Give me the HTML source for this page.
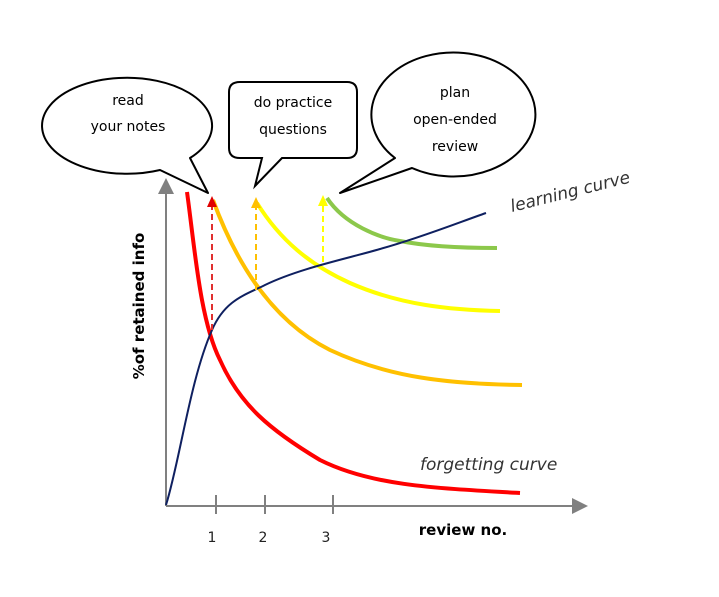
<!DOCTYPE html>
<html><head><style>body{margin:0;background:#fff}svg{display:block}</style></head><body>
<svg width="719" height="597" viewBox="0 0 719 597" xmlns="http://www.w3.org/2000/svg" font-family="DejaVu Sans, sans-serif">
<defs>
<marker id="ga" markerWidth="8" markerHeight="8" refX="4" refY="4" orient="auto"><path d="M0,0L8,4L0,8z" fill="#808080"/></marker>
</defs>
<path d="M190,158 L208,193 L160,170 A85,48 0 1 1 190,158 Z" fill="#fff" stroke="#000" stroke-width="2" stroke-linejoin="round"/>
<path d="M240,82 H347 Q357,82 357,92 V148 Q357,158 347,158 H282 L255,186 L262,158 H240 Q229,158 229,148 V92 Q229,82 240,82 Z" fill="#fff" stroke="#000" stroke-width="2"/>
<path d="M395,158 L340,193 L412,168 A82,62 0 1 0 395,158 Z" fill="#fff" stroke="#000" stroke-width="2" stroke-linejoin="round"/>
<g font-size="14" text-anchor="middle" fill="#000">
<text x="128" y="105">read</text><text x="128" y="131">your notes</text>
<text x="293" y="107">do practice</text><text x="293" y="134">questions</text>
<text x="455" y="97">plan</text><text x="455" y="124">open-ended</text><text x="455" y="151">review</text>
</g>
<line x1="166" y1="506" x2="166" y2="186" stroke="#808080" stroke-width="2" marker-end="url(#ga)"/>
<line x1="166" y1="506" x2="580" y2="506" stroke="#808080" stroke-width="2" marker-end="url(#ga)"/>
<g stroke="#808080" stroke-width="2"><line x1="216" y1="495" x2="216" y2="514"/><line x1="265" y1="495" x2="265" y2="514"/><line x1="333" y1="495" x2="333" y2="514"/></g>
<g font-size="14" fill="#222" text-anchor="middle"><text x="212" y="542">1</text><text x="263" y="542">2</text><text x="326" y="542">3</text></g>
<text x="463" y="535" font-size="15" font-weight="bold" text-anchor="middle">review no.</text>
<text transform="translate(144,306) rotate(-90)" font-size="15" font-weight="bold" text-anchor="middle">%of retained info</text>
<path d="M327,198 C345,225 380,238 400,241 C430,247 470,248 497,248" fill="none" stroke="#8cc84b" stroke-width="4"/>
<path d="M257,203 C280,240 310,265 350,283 C400,305 450,310 500,311" fill="none" stroke="#ffff00" stroke-width="4"/>
<path d="M213,200 C235,260 270,320 330,350 C390,378 450,384 522,385" fill="none" stroke="#ffc000" stroke-width="4"/>
<path d="M187,192 C195,250 200,320 220,360 C240,405 270,430 320,460 C370,485 430,488 520,493" fill="none" stroke="#ff0000" stroke-width="4"/>
<path d="M166,505 C180,460 190,380 212,330 C225,300 245,295 265,285 C300,268 350,258 380,249 C420,238 460,222 486,213" fill="none" stroke="#0f2060" stroke-width="2"/>
<line x1="212" y1="330" x2="212" y2="205" stroke="#e03030" stroke-width="2" stroke-dasharray="6,4"/>
<path d="M207,207 L212,196 L217,207Z" fill="#e00000"/>
<line x1="256" y1="290" x2="256" y2="207" stroke="#ffc000" stroke-width="2" stroke-dasharray="6,4"/>
<path d="M251,208 L256,197 L261,208Z" fill="#ffc000"/>
<line x1="323" y1="262" x2="323" y2="204" stroke="#ffff00" stroke-width="2" stroke-dasharray="6,4"/>
<path d="M318,206 L323,195 L328,206Z" fill="#ffff00"/>
<text x="512" y="212" font-size="17" font-style="italic" fill="#333" transform="rotate(-14 512 212)">learning curve</text>
<text x="420" y="470" font-size="17" font-style="italic" fill="#333">forgetting curve</text>
</svg>
</body></html>
